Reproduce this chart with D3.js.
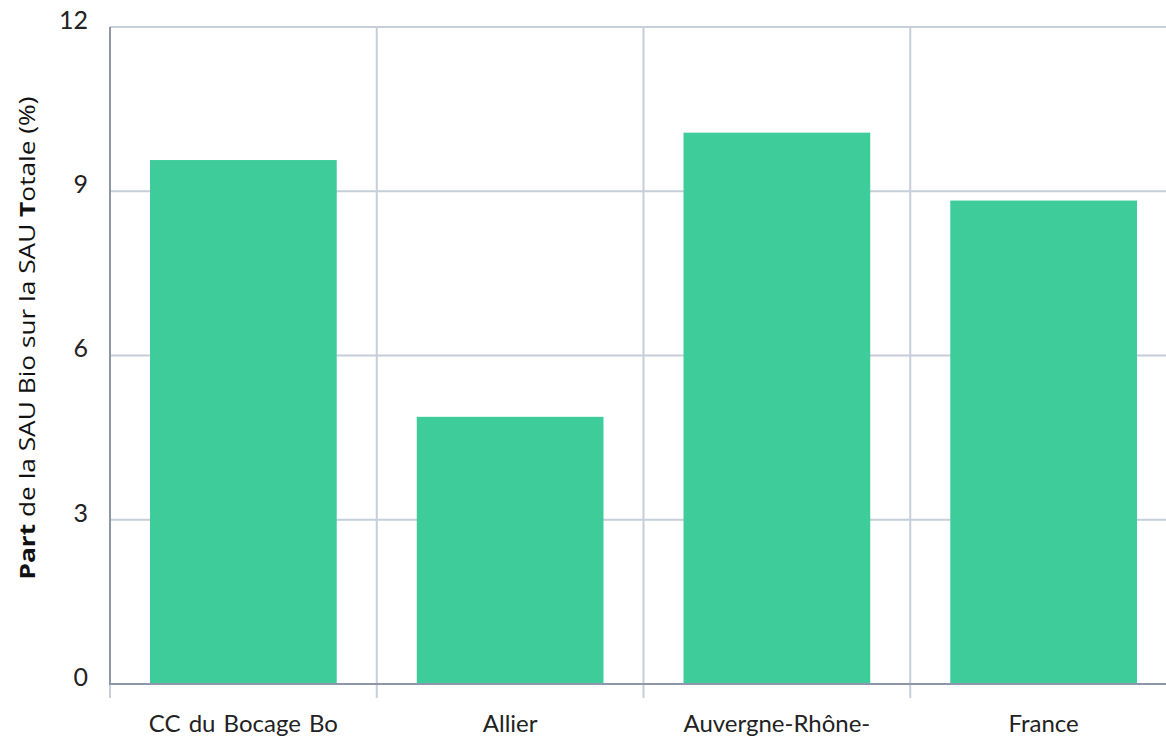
<!DOCTYPE html>
<html>
<head>
<meta charset="utf-8">
<script src="https://cdn.jsdelivr.net/npm/d3@7"></script>
<style>
  body { margin: 0; background: #fff; overflow: hidden; }
  svg { display: block; }
</style>
</head>
<body>
<div class="chart"></div>
<script>
// données
var categories = ["CC du Bocage Bo", "Allier", "Auvergne-Rhône-", "France"];
var values = [9.57, 4.88, 10.07, 8.83];
var yTicks = [0, 3, 6, 9, 12];

var width = 1166;
var height = 737;
var plotLeft = 110, plotTop = 27, plotBottom = 684, plotRight = 1177;

var svg = d3.select("div.chart").append("svg").attr("width", width).attr("height", height);

var x = d3.scaleBand()
  .domain(categories)
  .range([plotLeft, plotRight])
  .paddingInner(0.3)
  .paddingOuter(0.15);

var y = d3.scaleLinear()
  .domain([0, 12])
  .range([plotBottom, plotTop]);

var gridColor = "#c6ceda";
var axisColor = "#8d97a8";

// lignes horizontales
svg.append("g").selectAll("line")
  .data(yTicks)
  .enter()
  .append("line")
  .attr("x1", plotLeft)
  .attr("x2", width)
  .attr("y1", function(d) { return y(d); })
  .attr("y2", function(d) { return y(d); })
  .attr("stroke", gridColor)
  .attr("stroke-width", 2);

// séparateurs verticaux entre catégories
var seps = d3.range(1, categories.length + 1).map(function(i) { return plotLeft + i * x.step(); });
svg.append("g").selectAll("line")
  .data(seps)
  .enter()
  .append("line")
  .attr("x1", function(d) { return d; })
  .attr("x2", function(d) { return d; })
  .attr("y1", plotTop)
  .attr("y2", plotBottom + 14)
  .attr("stroke", gridColor)
  .attr("stroke-width", 2);

// barres
svg.append("g").selectAll("rect")
  .data(values)
  .enter()
  .append("rect")
  .attr("x", function(d, i) { return x(categories[i]); })
  .attr("width", x.bandwidth())
  .attr("y", function(d) { return y(d); })
  .attr("height", function(d) { return y(0) - y(d); })
  .attr("fill", "#3ecc9b");

// axes
svg.append("line")
  .attr("x1", plotLeft).attr("x2", plotLeft)
  .attr("y1", plotTop).attr("y2", plotBottom + 14)
  .attr("stroke", gridColor).attr("stroke-width", 2);
svg.append("line")
  .attr("x1", plotLeft).attr("x2", plotLeft)
  .attr("y1", plotTop).attr("y2", plotBottom)
  .attr("stroke", axisColor).attr("stroke-width", 2);
svg.append("line")
  .attr("x1", plotLeft - 1).attr("x2", width)
  .attr("y1", plotBottom).attr("y2", plotBottom)
  .attr("stroke", axisColor).attr("stroke-width", 2);

// étiquettes de l'axe Y
svg.append("g").selectAll("text")
  .data(yTicks)
  .enter()
  .append("text")
  .attr("x", 88)
  .attr("y", function(d) { return y(d) - 7; })
  .attr("dy", "0.35em")
  .attr("text-anchor", "end")
  .attr("font-family", "Lato, sans-serif")
  .attr("font-size", "25px")
  .attr("fill", "#222")
  .text(function(d) { return d; });

// étiquettes des catégories
svg.append("g").selectAll("text")
  .data(categories)
  .enter()
  .append("text")
  .attr("x", function(d) { return x(d) + x.bandwidth() / 2; })
  .attr("y", plotBottom + 48)
  .attr("text-anchor", "middle")
  .attr("font-family", "Lato, sans-serif")
  .attr("font-size", "24px")
  .attr("word-spacing", "2px")
  .attr("fill", "#222")
  .text(function(d) { return d; });

// titre de l'axe Y
var title = svg.append("text")
  .attr("transform", "translate(35,338) rotate(-90)")
  .attr("text-anchor", "middle")
  .attr("font-family", "'Open Sans', sans-serif")
  .attr("font-size", "22px")
  .attr("textLength", 483)
  .attr("lengthAdjust", "spacingAndGlyphs")
  .attr("fill", "#111");
title.append("tspan").attr("font-weight", "bold").text("Part");
title.append("tspan").text(" de la SAU Bio sur la SAU ");
title.append("tspan").attr("font-weight", "bold").text("T");
title.append("tspan").text("otale (%)");
</script>
</body>
</html>
